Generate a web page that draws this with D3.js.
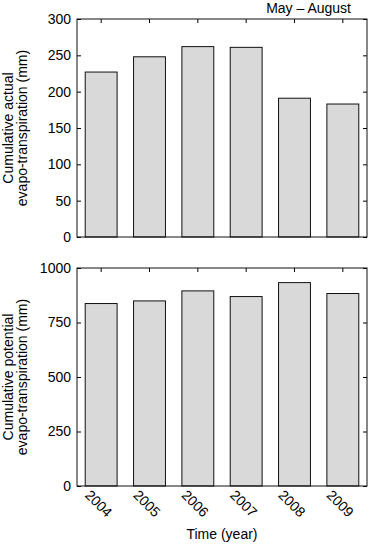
<!DOCTYPE html>
<html>
<head>
<meta charset="utf-8">
<script src="https://cdn.jsdelivr.net/npm/d3@7"></script>
<style>
  body { margin: 0; background: #fff; }
  text { font-family: "Liberation Sans", Arial, sans-serif; }
</style>
</head>
<body>
<div id="viz"></div>
<script>
const years = ['2004', '2005', '2006', '2007', '2008', '2009'];
const actualET = [227, 248, 262, 261, 191, 183];
const potentialET = [837, 849, 895, 869, 933, 883];
const actualTicks = [0, 50, 100, 150, 200, 250, 300];
const potentialTicks = [0, 250, 500, 750, 1000];

const width = 370;
const height = 544;
const left = 77;
const right = 367;
const fontSize = 14;

const svg = d3.select('#viz')
      .append('svg')
      .attr('width', width)
      .attr('height', height);

const x = d3.scaleBand()
      .domain(years)
      .range([left, right])
      .paddingInner(0.34)
      .paddingOuter(0.17);

function panel(values, ticks, top, bottom, labelLines) {
  const y = d3.scaleLinear()
        .domain([0, ticks[ticks.length - 1]])
        .range([bottom, top]);

  const g = svg.append('g');

  g.selectAll('rect.bar')
    .data(values)
    .join('rect')
    .attr('class', 'bar')
    .attr('x', (d, i) => x(years[i]))
    .attr('y', d => y(d))
    .attr('width', x.bandwidth())
    .attr('height', d => y(0) - y(d))
    .attr('fill', '#d9d9d9')
    .attr('stroke', '#111')
    .attr('stroke-width', 1);

  // left axis, ticks inward
  const ax = g.append('g')
      .attr('transform', `translate(${left},0)`)
      .call(d3.axisLeft(y).tickValues(ticks).tickFormat(d3.format('d'))
        .tickSizeInner(-4).tickSizeOuter(0).tickPadding(6));
  ax.select('.domain').remove();
  ax.selectAll('text').attr('font-size', fontSize).attr('fill', '#000').style('font-family', '"Liberation Sans", Arial, sans-serif');

  // right mirror ticks
  const ar = g.append('g')
      .attr('transform', `translate(${right},0)`)
      .call(d3.axisRight(y).tickValues(ticks).tickSizeInner(-4).tickSizeOuter(0).tickFormat(''));
  ar.select('.domain').remove();

  // top mirror ticks at bar centres
  const at = g.append('g')
      .attr('transform', `translate(0,${top})`)
      .call(d3.axisTop(x).tickSizeInner(-4).tickSizeOuter(0).tickFormat(''));
  at.select('.domain').remove();

  g.append('rect')
    .attr('x', left)
    .attr('y', top)
    .attr('width', right - left)
    .attr('height', bottom - top)
    .attr('fill', 'none')
    .attr('stroke', '#111')
    .attr('stroke-width', 1);

  const mid = (top + bottom) / 2;
  const lab = g.append('text')
      .attr('transform', `translate(13,${mid}) rotate(-90)`)
      .attr('text-anchor', 'middle')
      .attr('font-size', fontSize)
      .attr('fill', '#000');
  lab.append('tspan').attr('x', 0).attr('y', 0).text(labelLines[0]);
  lab.append('tspan').attr('x', 0).attr('y', 14).text(labelLines[1]);

  return y;
}

panel(actualET, actualTicks, 19, 237, ['Cumulative actual', 'evapo-transpiration (mm)']);
panel(potentialET, potentialTicks, 268, 486, ['Cumulative potential', 'evapo-transpiration (mm)']);

// year labels under bottom panel
const ab = svg.append('g')
    .attr('transform', 'translate(0,486)')
    .call(d3.axisBottom(x).tickSize(0));
ab.select('.domain').remove();
ab.selectAll('text')
  .attr('x', 0)
  .attr('y', 0)
  .attr('dy', '0.35em')
  .attr('text-anchor', 'middle')
  .attr('transform', 'translate(-2.5,17.5) rotate(45)')
  .attr('font-size', fontSize)
  .attr('fill', '#000')
  .style('font-family', '"Liberation Sans", Arial, sans-serif');

svg.append('text')
  .attr('x', (left + right) / 2)
  .attr('y', 539)
  .attr('text-anchor', 'middle')
  .attr('font-size', fontSize)
  .text('Time (year)');

svg.append('text')
  .attr('x', 351)
  .attr('y', 13)
  .attr('text-anchor', 'end')
  .attr('font-size', fontSize)
  .text('May – August');
</script>
</body>
</html>
